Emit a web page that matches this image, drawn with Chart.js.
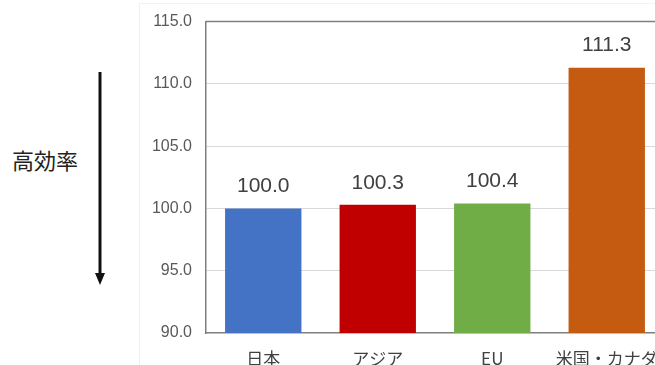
<!DOCTYPE html>
<html>
<head>
<meta charset="utf-8">
<script src="https://cdn.jsdelivr.net/npm/chart.js@4/dist/chart.umd.min.js"></script>
<style>
  html, body { margin: 0; padding: 0; background: #fff; overflow: hidden; width: 655px; height: 365px; }
  #wrap { position: relative; width: 655px; height: 365px; overflow: hidden; }
  #frame { position: absolute; left: 139px; top: 3px; width: 600px; height: 400px;
           border-left: 1px solid #efefef; border-top: 1px solid #f3f3f3; }
  #label { position: absolute; left: 12px; top: 145px; font: 22px "Noto Sans CJK JP", sans-serif;
           color: #222; line-height: 28px; }
  #arrow { position: absolute; left: 0; top: 0; }
  #chart { position: absolute; left: 0; top: -2px; }
</style>
</head>
<body>
<div id="wrap">
  <div id="frame"></div>
  <div id="label">高効率</div>
  <svg id="arrow" width="140" height="365">
    <line x1="100" y1="72" x2="100" y2="275" stroke="#111" stroke-width="3"/>
    <polygon points="95,273 105,273 100,285" fill="#111"/>
  </svg>
  <canvas id="chart" width="680" height="368"></canvas>
</div>
<script>
  const categories = ['日本', 'アジア', 'EU', '米国・カナダ'];
  const values = [100.0, 100.3, 100.4, 111.3];
  const barColors = ['#4472C4', '#C00000', '#70AD47', '#C55A11'];
  const yMin = 90;
  const yMax = 115;
  const yStep = 5;

  // 値ラベル（棒の上）
  const valueLabels = {
    id: 'valueLabels',
    afterDatasetsDraw(chart) {
      const ctx = chart.ctx;
      const meta = chart.getDatasetMeta(0);
      ctx.save();
      ctx.font = '21px "Liberation Sans", Arial, sans-serif';
      ctx.fillStyle = '#404040';
      ctx.textAlign = 'center';
      ctx.textBaseline = 'middle';
      meta.data.forEach((bar, i) => {
        ctx.fillText(values[i].toFixed(1), bar.x, bar.y - 22);
      });
      ctx.restore();
    }
  };

  // プロットエリア上辺の線
  const topBorder = {
    id: 'topBorder',
    afterDraw(chart) {
      const { ctx, chartArea } = chart;
      ctx.save();
      ctx.strokeStyle = '#7f7f7f';
      ctx.lineWidth = 1.5;
      ctx.beginPath();
      ctx.moveTo(chartArea.left, chartArea.top);
      ctx.lineTo(chartArea.right + 5, chartArea.top);
      ctx.stroke();
      ctx.restore();
    }
  };

  new Chart(document.getElementById('chart'), {
    type: 'bar',
    data: {
      labels: categories,
      datasets: [{
        data: values,
        backgroundColor: barColors,
        barPercentage: 0.667,
        categoryPercentage: 1.0,
      }],
    },
    options: {
      responsive: false,
      animation: false,
      devicePixelRatio: 1,
      layout: { padding: { left: 140, right: 16, top: 10, bottom: 0 } },
      scales: {
        x: {
          grid: { display: false, drawTicks: false },
          border: { display: true, color: '#7f7f7f', width: 1.5 },
          ticks: {
            color: '#404040',
            padding: 15,
            maxRotation: 0,
            font: { size: 17, family: '"Noto Sans CJK JP", sans-serif' },
          },
          afterFit: (s) => { s.height = 33; },
        },
        y: {
          min: yMin,
          max: yMax,
          grid: {
            drawTicks: false,
            color: (c) => (c.tick && (c.tick.value === yMin || c.tick.value === yMax)) ? 'rgba(0,0,0,0)' : '#d9d9d9',
          },
          border: { display: true, color: '#7f7f7f', width: 1.5 },
          ticks: {
            stepSize: yStep,
            padding: 14,
            color: '#595959',
            font: { size: 16, family: '"Liberation Sans", Arial, sans-serif' },
            callback: (v) => v.toFixed(1),
          },
          afterFit: (s) => { s.width = 66; },
        },
      },
      plugins: {
        legend: { display: false },
        tooltip: { enabled: false },
      },
    },
    plugins: [valueLabels, topBorder],
  });
</script>
</body>
</html>
